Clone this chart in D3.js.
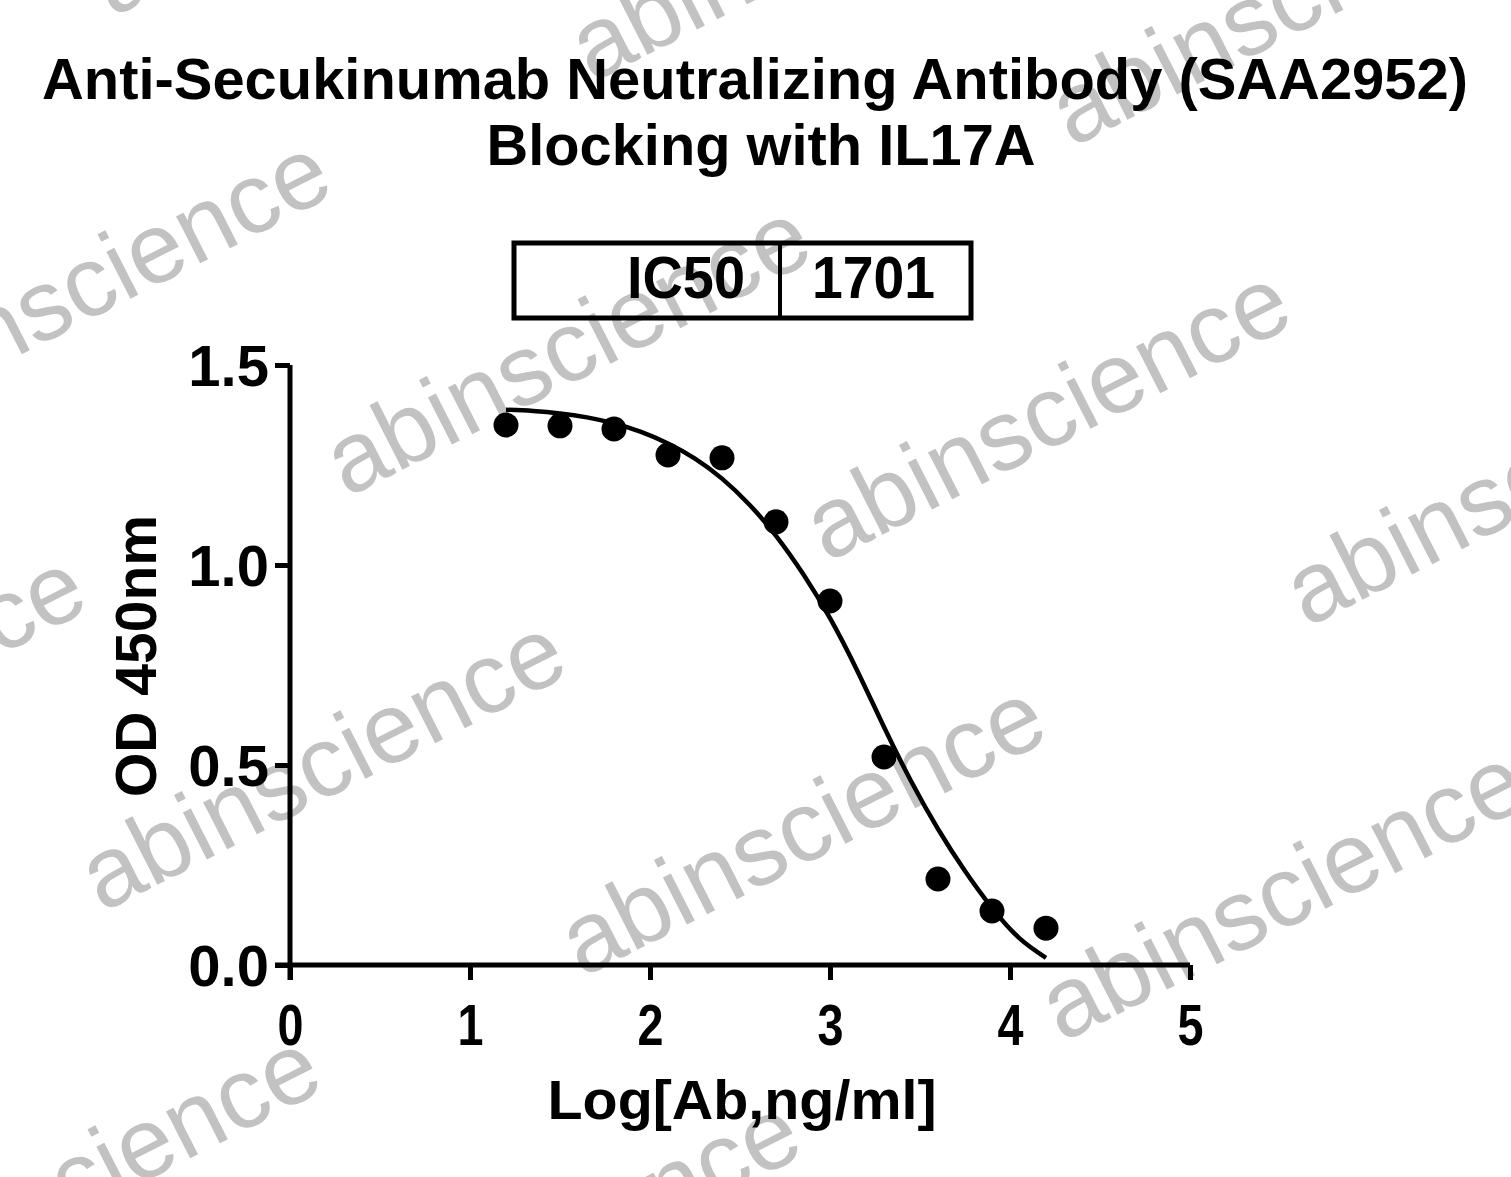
<!DOCTYPE html>
<html>
<head>
<meta charset="utf-8">
<script src="https://cdn.jsdelivr.net/npm/d3@7"></script>
<style>
  html, body { margin: 0; padding: 0; background: #fff; }
  svg { display: block; }
  text { font-family: "Liberation Sans", Arial, sans-serif; }
</style>
</head>
<body>
<svg id="chart" width="1511" height="1177"></svg>
<script>
// measured points (log concentration vs OD450)
const logConc = [1.2, 1.5, 1.8, 2.1, 2.4, 2.7, 3.0, 3.3, 3.6, 3.9, 4.2];
const od450   = [1.35, 1.348, 1.34, 1.275, 1.268, 1.108, 0.91, 0.52, 0.215, 0.135, 0.092];

// fitted curve
const fitX = [1.2, 1.35, 1.5, 1.65, 1.8, 1.95, 2.1, 2.25, 2.4, 2.55, 2.7, 2.85, 3.0, 3.15, 3.3, 3.45, 3.6, 3.75, 3.9, 4.05, 4.2];
const fitY = [1.388, 1.385, 1.379, 1.369, 1.354, 1.333, 1.304, 1.266, 1.216, 1.152, 1.073, 0.978, 0.867, 0.737, 0.595, 0.460, 0.340, 0.235, 0.143, 0.068, 0.018];

const xTicks = [0, 1, 2, 3, 4, 5];
const yTicks = [0, 0.5, 1.0, 1.5];
const yTickLabels = ['0.0', '0.5', '1.0', '1.5'];

const titleLines = ['Anti-Secukinumab Neutralizing Antibody (SAA2952)', 'Blocking with IL17A'];
const xTitle = 'Log[Ab,ng/ml]';
const yTitle = 'OD 450nm';
const ic50Label = 'IC50';
const ic50Value = '1701';
const watermark = 'abinscience';

const svg = d3.select('#chart');
const W = 1511, H = 1177;

// watermark layer (tiled, rotated)
const gWm = svg.append('g').attr('class', 'watermark');
const base = [347, 498], u = [480, 65], v = [245, -415];
for (let i = -2; i <= 3; i++) {
  for (let j = -2; j <= 2; j++) {
    const px = base[0] + i * u[0] + j * v[0];
    const py = base[1] + i * u[1] + j * v[1];
    if (px < -600 || px > W + 50 || py < -100 || py > H + 300) continue;
    gWm.append('text')
      .attr('transform', `translate(${px},${py}) rotate(-27)`)
      .attr('font-size', 100)
      .attr('fill', '#c2c2c2')
      .text(watermark);
  }
}

// scales
const x = d3.scaleLinear().domain([0, 5]).range([290, 1190]);
const y = d3.scaleLinear().domain([0, 1.5]).range([965, 365]);

const titleWidths = [1426, 549];
const titleCentres = [755, 761];
svg.append('g').selectAll('text')
  .data(titleLines)
  .join('text')
    .attr('x', (d, i) => titleCentres[i])
    .attr('y', (d, i) => 99 + i * 66)
    .attr('text-anchor', 'middle')
    .attr('font-size', 58)
    .attr('font-weight', 'bold')
    .attr('textLength', (d, i) => titleWidths[i])
    .attr('lengthAdjust', 'spacingAndGlyphs')
    .text(d => d);

// IC50 table
const box = svg.append('g').attr('class', 'ic50');
box.append('rect').attr('x', 514).attr('y', 243).attr('width', 457).attr('height', 75)
  .attr('fill', 'none').attr('stroke', '#000').attr('stroke-width', 5);
box.append('line').attr('x1', 780).attr('x2', 780).attr('y1', 243).attr('y2', 318)
  .attr('stroke', '#000').attr('stroke-width', 4);
box.append('text').attr('x', 627).attr('y', 298)
  .attr('font-size', 60).attr('font-weight', 'bold')
  .attr('textLength', 118).attr('lengthAdjust', 'spacingAndGlyphs')
  .text(ic50Label);
box.append('text').attr('x', 812).attr('y', 298)
  .attr('font-size', 60).attr('font-weight', 'bold')
  .attr('textLength', 123).attr('lengthAdjust', 'spacingAndGlyphs')
  .text(ic50Value);

// axes
const xAxis = svg.append('g')
  .attr('transform', `translate(0,${y(0)})`)
  .call(d3.axisBottom(x).tickValues(xTicks).tickFormat(d3.format('d')).tickSize(15));
xAxis.select('.domain').attr('d', `M${x(0) - 15},0H${x(5)}`);

const yAxis = svg.append('g')
  .attr('transform', `translate(${x(0)},0)`)
  .call(d3.axisLeft(y).tickValues(yTicks).tickFormat((d, i) => yTickLabels[i]).tickSize(15).tickPadding(6));
yAxis.select('.domain').attr('d', `M0,${y(1.5)}V${y(0) + 15}`);

[xAxis, yAxis].forEach(a => {
  a.select('.domain').attr('stroke', '#000').attr('stroke-width', 5).attr('fill', 'none');
  a.selectAll('.tick line').attr('stroke', '#000').attr('stroke-width', 5);
  a.selectAll('.tick text')
    .attr('fill', '#000')
    .attr('font-family', '"Liberation Sans", Arial, sans-serif')
    .attr('font-weight', 'bold');
});
// x tick digits are tall and narrow in the reference
xAxis.selectAll('.tick text')
  .attr('font-size', 57)
  .attr('y', 80).attr('dy', 0)
  .attr('transform', 'scale(0.82,1)');
yAxis.selectAll('.tick text').attr('font-size', 58).attr('dy', '0.36em');

// axis titles
svg.append('text')
  .attr('x', 742).attr('y', 1119)
  .attr('text-anchor', 'middle')
  .attr('font-size', 56).attr('font-weight', 'bold')
  .attr('textLength', 389).attr('lengthAdjust', 'spacingAndGlyphs')
  .text(xTitle);

svg.append('text')
  .attr('transform', `translate(156,656) rotate(-90)`)
  .attr('text-anchor', 'middle')
  .attr('font-size', 57).attr('font-weight', 'bold')
  .text(yTitle);

// fitted curve
const fit = fitX.map((d, i) => [d, fitY[i]]);
svg.append('path')
  .datum(fit)
  .attr('fill', 'none')
  .attr('stroke', '#000')
  .attr('stroke-width', 4.5)
  .attr('d', d3.line().x(d => x(d[0])).y(d => y(d[1])).curve(d3.curveNatural));

// points
svg.append('g').selectAll('circle')
  .data(logConc.map((d, i) => ({ x: d, y: od450[i] })))
  .join('circle')
    .attr('cx', d => x(d.x))
    .attr('cy', d => y(d.y))
    .attr('r', 12.5)
    .attr('fill', '#000');
</script>
</body>
</html>
